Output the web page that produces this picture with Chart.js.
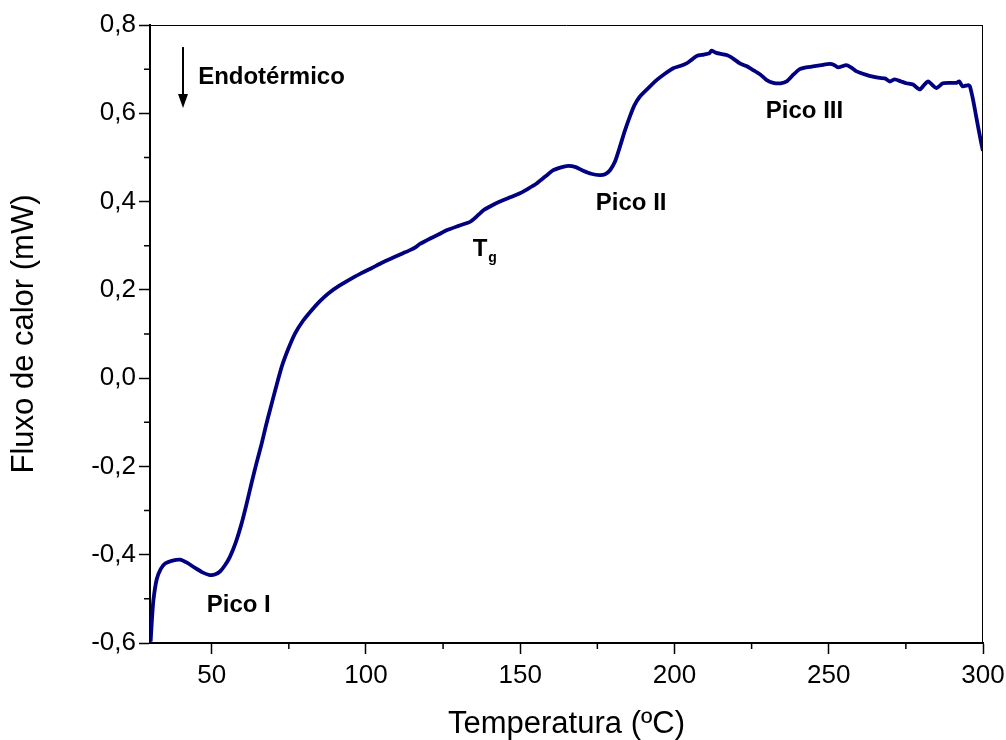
<!DOCTYPE html>
<html>
<head>
<meta charset="utf-8">
<script src="https://cdn.jsdelivr.net/npm/chart.js@4"></script>
<style>
  html, body { margin: 0; padding: 0; background: #fff; }
</style>
</head>
<body>
<canvas id="myChart" width="1006" height="740"></canvas>
<script>
// DSC curve
var temperatura = [30.2, 30.6, 31.1, 32.2, 33.5, 34.9, 37, 39.7, 42, 44.6, 47, 49.4, 51, 52.7, 54.3, 55.9,
    57.8, 59.7, 61.3, 62.9, 64.5, 66.2, 67.5, 68.9, 70.8, 72.7, 74.8, 77, 79.6, 82.4, 85, 87.8, 91.5, 95.4,
    98.5, 101.8, 105, 109.4, 112, 114.3, 116, 117.5, 121, 124, 126.1, 130, 133.7, 135.5, 138, 140.5, 143.4,
    146.5, 149.9, 152.5, 155.3, 158, 160.7, 163, 165.5, 168, 170.4, 173, 175.8, 177.5, 179.1, 180.8, 182.3,
    183.9, 185.5, 187, 188.8, 191.5, 194.2, 197, 199.6, 201.8, 203.9, 205.5, 207.2, 209.5, 211.3, 212, 213.5,
    216.9, 219, 221.2, 223.3, 225.5, 227.8, 229.9, 232, 234.4, 236.5, 238.6, 240.6, 242.7, 244.9, 247.5,
    250.3, 251.6, 253, 255.7, 257.2, 259, 262.2, 264.3, 266.5, 268.2, 269.8, 271.4, 273.5, 275.2, 277.3,
    279.5, 281, 282.2, 283.6, 284.9, 287, 289, 291.4, 292.3, 293.4, 295.3, 295.8, 296.8, 297.6, 298.4,
    299.5, 300];
var fluxo = [-0.597, -0.55, -0.503, -0.455, -0.432, -0.42, -0.414, -0.411, -0.418, -0.43, -0.44, -0.446,
    -0.445, -0.438, -0.424, -0.405, -0.372, -0.329, -0.285, -0.238, -0.193, -0.148, -0.11, -0.072, -0.022,
    0.026, 0.066, 0.101, 0.13, 0.154, 0.174, 0.192, 0.21, 0.226, 0.238, 0.249, 0.261, 0.275, 0.283, 0.29,
    0.296, 0.304, 0.317, 0.327, 0.335, 0.345, 0.354, 0.364, 0.38, 0.39, 0.4, 0.409, 0.419, 0.429, 0.441,
    0.456, 0.471, 0.477, 0.481, 0.478, 0.47, 0.463, 0.46, 0.462, 0.471, 0.492, 0.524, 0.56, 0.592, 0.618,
    0.638, 0.657, 0.675, 0.69, 0.702, 0.707, 0.713, 0.721, 0.73, 0.733, 0.736, 0.742, 0.737, 0.732, 0.724,
    0.713, 0.707, 0.698, 0.688, 0.675, 0.669, 0.668, 0.673, 0.688, 0.7, 0.704, 0.706, 0.709, 0.712, 0.71,
    0.704, 0.709, 0.704, 0.695, 0.687, 0.683, 0.68, 0.679, 0.672, 0.677, 0.672, 0.668, 0.665, 0.654, 0.665,
    0.672, 0.664, 0.657, 0.668, 0.669, 0.669, 0.672, 0.661, 0.664, 0.66, 0.63, 0.6, 0.57, 0.53, 0.515];

var xTicks = [50, 100, 150, 200, 250, 300];
var xMinor = [75, 125, 175, 225, 275];
var yTicks = [-0.6, -0.4, -0.2, 0, 0.2, 0.4, 0.6, 0.8];
var yMinor = [-0.5, -0.3, -0.1, 0.1, 0.3, 0.5, 0.7];

// labels placed in data units (left edge, baseline)
var notas = [
    { text: 'Endotérmico', x: 45.6, y: 0.666 },
    { text: 'Pico I', x: 48.4, y: -0.529 },
    { text: 'Pico II', x: 174.5, y: 0.381 },
    { text: 'Pico III', x: 229.6, y: 0.589 },
    { text: 'T', x: 134.6, y: 0.277, sub: 'g' }
];
var seta = { x: 40.7, top: 0.75, bottom: 0.612 };

var fonte = '"Liberation Sans", Arial, sans-serif';

var points = temperatura.map(function (t, i) { return { x: t, y: fluxo[i] }; });

var extras = {
    id: 'extras',
    afterDraw: function (chart) {
        var c = chart.ctx, a = chart.chartArea;
        var xs = chart.scales.x, ys = chart.scales.y;
        c.save();
        // top and right frame
        c.strokeStyle = '#000';
        c.lineWidth = 1;
        c.beginPath();
        c.moveTo(a.left, a.top + 0.5); c.lineTo(a.right, a.top + 0.5);
        c.moveTo(a.right - 0.5, a.top); c.lineTo(a.right - 0.5, a.bottom);
        c.stroke();
        // minor ticks
        c.lineWidth = 1.5;
        c.beginPath();
        xMinor.forEach(function (v) {
            var p = xs.getPixelForValue(v);
            c.moveTo(p, a.bottom); c.lineTo(p, a.bottom + 6);
        });
        yMinor.forEach(function (v) {
            var p = ys.getPixelForValue(v);
            c.moveTo(a.left, p); c.lineTo(a.left - 6, p);
        });
        c.stroke();
        // text notes
        c.fillStyle = '#000';
        c.textBaseline = 'alphabetic';
        c.textAlign = 'left';
        notas.forEach(function (n) {
            var px = xs.getPixelForValue(n.x), py = ys.getPixelForValue(n.y);
            c.font = 'bold 24px ' + fonte;
            c.fillText(n.text, px, py);
            if (n.sub) {
                var w = c.measureText(n.text).width;
                c.font = 'bold 14px ' + fonte;
                c.fillText(n.sub, px + w + 1, py + 6);
            }
        });
        // arrow
        var ax = xs.getPixelForValue(seta.x);
        var at = ys.getPixelForValue(seta.top), ab = ys.getPixelForValue(seta.bottom);
        c.lineWidth = 2;
        c.beginPath();
        c.moveTo(ax, at); c.lineTo(ax, ab - 10);
        c.stroke();
        c.beginPath();
        c.moveTo(ax - 5, ab - 14); c.lineTo(ax + 5, ab - 14); c.lineTo(ax, ab);
        c.closePath();
        c.fill();
        c.restore();
    }
};

var ctx = document.getElementById('myChart').getContext('2d');
var myChart = new Chart(ctx, {
    type: 'line',
    data: {
        datasets: [{
            label: 'Fluxo de calor',
            data: points,
            borderColor: '#000080',
            borderWidth: 3.8,
            pointRadius: 0,
            tension: 0.2,
            fill: false
        }]
    },
    options: {
        responsive: false,
        animation: false,
        layout: { padding: { left: 0, top: 25, right: 23, bottom: 0 } },
        plugins: { legend: { display: false }, tooltip: { enabled: false } },
        scales: {
            x: {
                type: 'linear',
                min: 30,
                max: 300,
                afterBuildTicks: function (s) { s.ticks = xTicks.map(function (v) { return { value: v }; }); },
                afterFit: function (s) { s.height = 97; s.paddingLeft = 0; s.paddingRight = 0; },
                grid: { drawOnChartArea: false, drawTicks: true, tickLength: 11, tickWidth: 1.5, tickColor: '#000' },
                border: { display: true, color: '#000', width: 2 },
                ticks: { color: '#000', font: { family: fonte, size: 26 }, padding: 6, maxRotation: 0, autoSkip: false },
                title: {
                    display: true, text: 'Temperatura (ºC)', color: '#000',
                    font: { family: fonte, size: 31, lineHeight: 1 }, padding: { top: 0, bottom: 0 }
                }
            },
            y: {
                type: 'linear',
                min: -0.6,
                max: 0.8,
                afterBuildTicks: function (s) { s.ticks = yTicks.map(function (v) { return { value: v }; }); },
                afterFit: function (s) { s.width = 150; s.paddingTop = 0; s.paddingBottom = 0; },
                grid: { drawOnChartArea: false, drawTicks: true, tickLength: 11, tickWidth: 1.5, tickColor: '#000' },
                border: { display: true, color: '#000', width: 2 },
                ticks: {
                    color: '#000', font: { family: fonte, size: 26 }, padding: 3, autoSkip: false,
                    callback: function (v) { return v.toFixed(1).replace('.', ','); }
                },
                title: {
                    display: true, text: 'Fluxo de calor (mW)', color: '#000',
                    font: { family: fonte, size: 31, lineHeight: 1 }, padding: { top: 9, bottom: 0 }
                }
            }
        }
    },
    plugins: [extras]
});
</script>
</body>
</html>
